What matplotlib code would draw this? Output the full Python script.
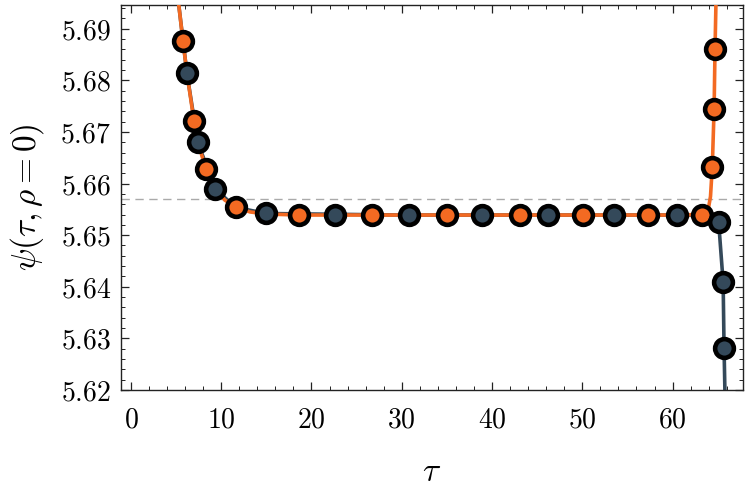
import matplotlib
matplotlib.use("Agg")
import matplotlib.pyplot as plt
from matplotlib.ticker import MultipleLocator, FuncFormatter

plt.rcParams['mathtext.fontset'] = 'cm'
plt.rcParams['font.family'] = ['DejaVu Serif']

# marker data
tau_orange = [5.76, 6.98, 8.3, 11.6, 18.6, 26.7, 35.0, 43.1, 50.1, 57.3, 63.3, 64.4, 64.6, 64.7]
psi_orange = [5.6877, 5.6722, 5.6629, 5.6554, 5.6539, 5.6539, 5.6539, 5.6539, 5.6539, 5.6539, 5.6540, 5.6633, 5.6745, 5.6860]
tau_navy = [6.2, 7.4, 9.3, 14.95, 22.6, 30.8, 38.9, 46.2, 53.5, 60.5, 65.1, 65.6, 65.7]
psi_navy = [5.6814, 5.6680, 5.6590, 5.6542, 5.6539, 5.6539, 5.6539, 5.6539, 5.6539, 5.6539, 5.6526, 5.6409, 5.6282]

# curve data
curve_tau_orange = [5.3, 5.76, 6.2, 6.98, 7.4, 8.3, 9.3, 10.4, 11.6, 13.2, 14.95, 18.6, 30.0, 45.0, 60.0, 63.3, 63.9, 64.2, 64.4, 64.6, 64.7, 64.8]
curve_psi_orange = [5.6946, 5.6877, 5.6814, 5.6722, 5.6680, 5.6629, 5.6590, 5.6568, 5.6554, 5.6545, 5.6541, 5.6539, 5.6539, 5.6539, 5.6539, 5.6540, 5.6545, 5.6575, 5.6633, 5.6745, 5.6860, 5.6946]
curve_tau_navy = [5.3, 6.2, 7.4, 9.3, 11.6, 14.95, 30.0, 45.0, 60.0, 64.0, 64.6, 65.1, 65.6, 65.7, 65.8]
curve_psi_navy = [5.6946, 5.6814, 5.6680, 5.6590, 5.6554, 5.6542, 5.6539, 5.6539, 5.6539, 5.6538, 5.6534, 5.6526, 5.6409, 5.6282, 5.6195]

ref_level = 5.6571

xticks = [0, 10, 20, 30, 40, 50, 60]
yticks = [5.62, 5.63, 5.64, 5.65, 5.66, 5.67, 5.68, 5.69]

ORANGE = '#f36a22'
NAVY = '#34495a'

fig = plt.figure(figsize=(7.5, 4.96), dpi=100)
ax = fig.add_axes([121/750, 1-390/496, (743-121)/750, (390-5)/496])

ax.axhline(ref_level, color='#aaaaaa', lw=1.0, ls=(0, (6, 4)), zorder=1)
ax.plot(curve_tau_navy, curve_psi_navy, color=NAVY, lw=2.6, zorder=2)
ax.plot(curve_tau_orange, curve_psi_orange, color=ORANGE, lw=2.6, zorder=3)
ax.plot(tau_orange, psi_orange, 'o', ms=13.5, mfc=ORANGE, mec='black', mew=3.3, zorder=4, ls='none')
ax.plot(tau_navy, psi_navy, 'o', ms=13.5, mfc=NAVY, mec='black', mew=3.3, zorder=4, ls='none')

ax.set_xlim(-1.1, 67.8)
ax.set_ylim(5.62, 5.6946)
ax.set_xticks(xticks)
ax.set_yticks(yticks)
ax.xaxis.set_minor_locator(MultipleLocator(2))
ax.yaxis.set_minor_locator(MultipleLocator(0.002))
ax.xaxis.set_major_formatter(FuncFormatter(lambda v, p: f'${v:.0f}$'))
ax.yaxis.set_major_formatter(FuncFormatter(lambda v, p: f'${v:.2f}$'))
ax.tick_params(which='both', direction='in', top=True, right=True, labelsize=20, color='#222222')
ax.tick_params(axis='x', which='major', pad=12)
ax.tick_params(axis='y', which='major', pad=7)
ax.tick_params(which='major', length=6, width=0.9)
ax.tick_params(which='minor', length=3, width=0.7)
for s in ax.spines.values():
    s.set_color('#222222')
    s.set_linewidth(1.0)

ax.set_xlabel(r'$\tau$', fontsize=24, labelpad=16)
ax.set_ylabel(r'$\psi(\tau,\rho=0)$', fontsize=24, labelpad=10)

fig.savefig('out.png', dpi=100)
